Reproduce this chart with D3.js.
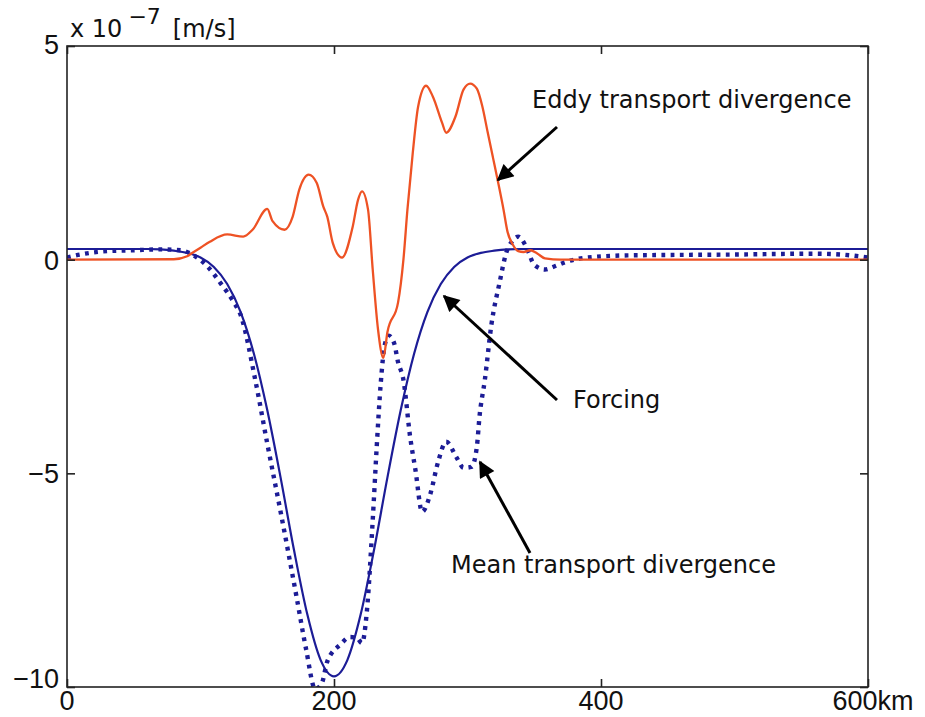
<!DOCTYPE html>
<html>
<head>
<meta charset="utf-8">
<script src="https://cdn.jsdelivr.net/npm/d3@7"></script>
<style>
  html, body { margin: 0; padding: 0; background: #fff; }
  svg { display: block; }
</style>
</head>
<body>
<svg id="chart" width="925" height="717"></svg>
<script>
// Distance along the section [km]
const forcingKm = [0, 50, 60, 70, 80, 90, 100, 110, 120, 130, 140, 150, 160, 170, 180, 190, 200,
  210, 220, 230, 240, 250, 260, 270, 280, 290, 300, 310, 320, 330, 340, 600];
// Forcing [1e-7 m/s]
const forcingVal = [0.25, 0.25, 0.25, 0.24, 0.21, 0.16, 0.05, -0.17, -0.57, -1.22, -2.20, -3.52, -5.10, -6.79, -8.30, -9.37, -9.75,
  -9.37, -8.30, -6.79, -5.10, -3.52, -2.20, -1.22, -0.57, -0.17, 0.05, 0.16, 0.21, 0.24, 0.25, 0.25];

const eddyKm = [0, 80, 90, 94, 100, 107, 120, 132, 139, 150, 154, 163, 169, 174, 181, 187, 192, 195, 199, 206,
  214, 218, 221, 225.5, 229, 233, 237, 240, 248, 252, 255, 259, 263, 269, 274, 281, 284, 291, 297, 302,
  307, 311, 315, 319, 323, 327, 330, 334, 338, 342, 347, 352, 358, 370, 600];
// Eddy transport divergence [1e-7 m/s]
const eddyVal = [0, 0.01, 0.08, 0.16, 0.28, 0.42, 0.59, 0.54, 0.7, 1.19, 0.9, 0.7, 1.0, 1.64, 1.99, 1.8, 1.24, 1.0, 0.4, 0.05,
  0.77, 1.4, 1.6, 1.17, -0.23, -1.64, -2.3, -1.7, -1.0, 0.0, 1.17, 2.5, 3.58, 4.07, 3.82, 3.2, 2.97, 3.35, 3.98, 4.12,
  4.0, 3.6, 3.0, 2.4, 1.8, 1.17, 0.65, 0.35, 0.2, 0.18, 0.22, 0.15, 0.03, 0.0, 0.0];

const meanKm = [0, 10, 20, 30, 50, 70, 85, 95, 105, 115, 125, 130, 141, 150, 160, 172, 179, 186, 191, 195, 205, 212, 217, 221,
  224.5, 229, 232, 235, 238, 241, 245, 248, 252, 257, 261, 266, 272, 278, 284, 292, 297, 303, 307, 309, 313, 318, 324,
  329, 334, 338, 344, 350, 358, 365, 374, 390, 420, 500, 560, 580, 600];
// Mean transport divergence [1e-7 m/s]
const meanVal = [0.05, 0.12, 0.17, 0.2, 0.22, 0.24, 0.22, 0.1, -0.15, -0.55, -1.0, -1.29, -2.81, -4.3, -5.9, -7.9, -9.1, -10.05, -9.9, -9.4, -9.0, -8.83, -8.85, -8.97,
  -8.27, -6.1, -4.38, -2.9, -2.0, -1.78, -1.95, -2.4, -2.81, -4.14, -4.92, -5.9, -5.5, -4.73, -4.26, -4.64, -4.87, -4.85, -4.38, -3.67, -2.81, -1.5, -0.54,
  0.16, 0.45, 0.54, 0.3, -0.12, -0.23, -0.16, -0.05, 0.05, 0.1, 0.12, 0.14, 0.12, 0.05];

const xTicks = [0, 200, 400, 600];
const xTickLabels = ["0", "200", "400", "600km"];
const yTicks = [-10, -5, 0, 5];
const yTickLabels = ["\u221210", "\u22125", "0", "5"];

const svg = d3.select("#chart");
const m = { left: 67, right: 868, top: 46, bottom: 687 };

const x = d3.scaleLinear().domain([0, 600]).range([m.left, m.right]);
const y = d3.scaleLinear().domain([-10, 5]).range([m.bottom, m.top]);

svg.append("defs").append("clipPath").attr("id", "plotClip")
  .append("rect").attr("x", m.left).attr("y", m.top)
  .attr("width", m.right - m.left).attr("height", m.bottom - m.top);

const line = d3.line().x(d => x(d[0])).y(d => y(d[1])).curve(d3.curveMonotoneX);
const zip = (a, b) => a.map((k, i) => [k, b[i]]);

const plot = svg.append("g").attr("clip-path", "url(#plotClip)");

plot.append("path").datum(zip(forcingKm, forcingVal))
  .attr("d", line).attr("fill", "none")
  .attr("stroke", "#1c1c96").attr("stroke-width", 2.2);

plot.append("path").datum(zip(meanKm, meanVal))
  .attr("d", line).attr("fill", "none")
  .attr("stroke", "#1c1c96").attr("stroke-width", 4.4)
  .attr("stroke-dasharray", "3.8,5.4");

plot.append("path").datum(zip(eddyKm, eddyVal))
  .attr("d", line).attr("fill", "none")
  .attr("stroke", "#ee5224").attr("stroke-width", 2.3);

// Axes box with inward ticks on all four sides
const frame = svg.append("g");
frame.append("rect").attr("x", m.left).attr("y", m.top)
  .attr("width", m.right - m.left).attr("height", m.bottom - m.top)
  .attr("fill", "none").attr("stroke", "#222").attr("stroke-width", 1.6);

const tickLen = 8;
const axB = d3.axisBottom(x).tickValues(xTicks).tickSize(-tickLen).tickFormat("");
const axT = d3.axisTop(x).tickValues(xTicks).tickSize(-tickLen).tickFormat("");
const axL = d3.axisLeft(y).tickValues(yTicks).tickSize(-tickLen).tickFormat("");
const axR = d3.axisRight(y).tickValues(yTicks).tickSize(-tickLen).tickFormat("");
[[axB, `translate(0,${m.bottom})`], [axT, `translate(0,${m.top})`],
 [axL, `translate(${m.left},0)`], [axR, `translate(${m.right},0)`]].forEach(([ax, tr]) => {
  const g = frame.append("g").attr("transform", tr).call(ax);
  g.select(".domain").remove();
  g.selectAll(".tick line").attr("stroke", "#222").attr("stroke-width", 1.6);
});

const tickFont = "'Liberation Sans', Arial, sans-serif";
svg.append("g").selectAll("text").data(xTicks).join("text")
  .attr("x", d => x(d) + (d === 600 ? 5 : 0)).attr("y", 710)
  .attr("text-anchor", "middle")
  .attr("font-family", tickFont).attr("font-size", 27).attr("fill", "#111")
  .text((d, i) => xTickLabels[i]);

svg.append("g").selectAll("text").data(yTicks).join("text")
  .attr("x", 59).attr("y", d => y(d) + (d === -10 ? 1 : (d === 5 ? 8 : 10)))
  .attr("text-anchor", "end")
  .attr("font-family", tickFont).attr("font-size", 27).attr("fill", "#111")
  .text((d, i) => yTickLabels[i]);

// Exponent / unit label
const unit = svg.append("text").attr("x", 70).attr("y", 37)
  .attr("font-family", "'DejaVu Sans', sans-serif").attr("font-size", 24).attr("fill", "#111");
unit.append("tspan").text("x 10");
unit.append("tspan").attr("dx", 6).attr("dy", -13).attr("font-size", 22).text("\u22127");
unit.append("tspan").attr("dx", 12).attr("dy", 13).text("[m/s]");

// Annotations with arrows
const defs = svg.select("defs");
defs.append("marker").attr("id", "arrowHead")
  .attr("viewBox", "0 0 10 10").attr("refX", 9).attr("refY", 5)
  .attr("markerWidth", 6).attr("markerHeight", 5.5)
  .attr("markerUnits", "strokeWidth").attr("orient", "auto")
  .append("path").attr("d", "M0,0 L10,5 L0,10 Z").attr("fill", "#000");

const notes = [
  { text: "Eddy transport divergence", tx: 532, ty: 108, from: [557, 127], to: [498, 180] },
  { text: "Forcing", tx: 573, ty: 408, from: [557, 400], to: [444, 296] },
  { text: "Mean transport divergence", tx: 451, ty: 573, from: [530, 553], to: [480, 462] }
];
const ann = svg.append("g");
notes.forEach(n => {
  ann.append("line").attr("x1", n.from[0]).attr("y1", n.from[1])
    .attr("x2", n.to[0]).attr("y2", n.to[1])
    .attr("stroke", "#000").attr("stroke-width", 3)
    .attr("marker-end", "url(#arrowHead)");
  ann.append("text").attr("x", n.tx).attr("y", n.ty)
    .attr("font-family", "'DejaVu Sans', sans-serif").attr("font-size", 24).attr("fill", "#111")
    .text(n.text);
});
</script>
</body>
</html>
